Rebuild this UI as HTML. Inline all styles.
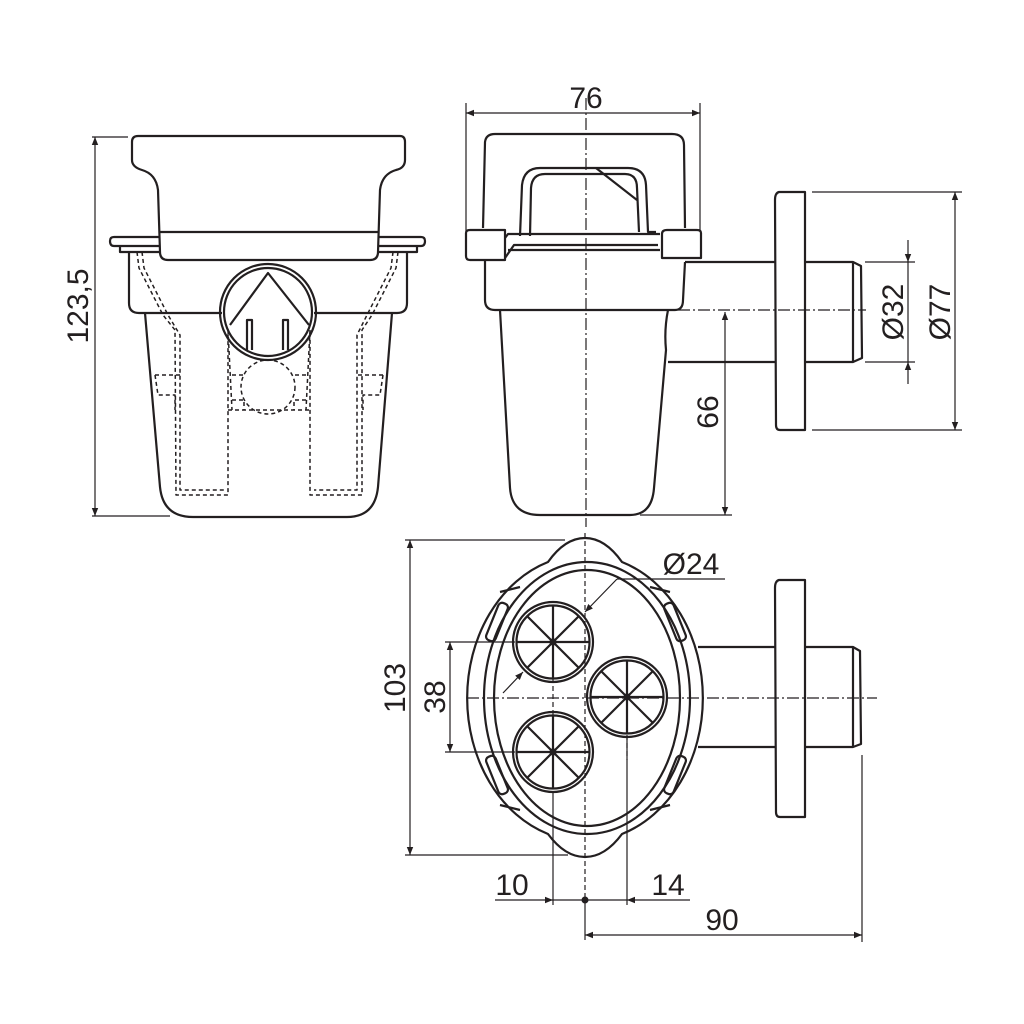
<!DOCTYPE html>
<html><head><style>
html,body{margin:0;padding:0;background:#fff;}
svg{display:block;}
text{font-family:"Liberation Sans","DejaVu Sans",sans-serif;font-size:30px;fill:#231f20;}
</style></head><body>
<svg width="1024" height="1024" viewBox="0 0 1024 1024" xmlns="http://www.w3.org/2000/svg">
<defs>
<marker id="a" viewBox="0 0 10 10" refX="10" refY="5" markerWidth="14" markerHeight="8" markerUnits="userSpaceOnUse" orient="auto-start-reverse"><path d="M0,1 L10,5 L0,9 z" fill="#231f20"/></marker>
</defs>
<g fill="none" stroke="#231f20" stroke-width="2.2" stroke-linejoin="round">
<!-- ============ FRONT VIEW ============ -->
<path d="M138,136 L400,136 Q405,136 405,142 L405,160 Q405,168 396,170 Q382,174 380,190 L378,252 Q378,260 370,260 L168,260 Q160,260 160,252 L158,190 Q156,174 142,170 Q132,167 132,160 L132,142 Q132,136 138,136 Z"/>
<line x1="159" y1="232" x2="379" y2="232"/>
<path d="M160,237 L114,237 Q110,237 110,241 Q110,246 114,246 L160,246"/>
<path d="M378,237 L421,237 Q425,237 425,241 Q425,246 421,246 L378,246"/>
<path d="M120,246 L120,252 L160,252"/>
<path d="M417,246 L417,252 L378,252"/>
<path d="M129,252 L129,303 Q129,313 139,313 L222,313"/>
<path d="M407,252 L407,303 Q407,313 397,313 L314,313"/>
<path d="M145,313 L160,487 Q163,517 193,517 L347,517 Q375,517 378,487 L392,313"/>
<circle cx="268" cy="312" r="48"/>
<circle cx="268" cy="312" r="44"/>
<path d="M230,325 L268,273 L309,325"/>
<path d="M247,350 L247,320 L252,320 L252,350"/>
<path d="M283,350 L283,320 L288,320 L288,350"/>
<g stroke-width="1.5" stroke-dasharray="4,3">
<circle cx="268" cy="387" r="27"/>
<path d="M137,252 L139,268 L163,315 L175,330 L176,495 L228,495 L228,330"/>
<path d="M142,252 L144,268 L168,315 L180,335 L180,490 L224,490"/>
<path d="M398,252 L396,268 L372,315 L362,330 L362,495 L310,495 L310,330"/>
<path d="M393,252 L391,268 L367,315 L357,335 L357,490 L314,490"/>
<path d="M228,330 L232,410 M310,330 L306,410"/>
<path d="M155,375 L180,375 M155,375 L158,395 L175,395 L175,410"/>
<path d="M383,375 L358,375 M383,375 L380,395 L363,395 L363,410"/>
<path d="M232,375 L244,375 M232,400 L244,400 L244,410 M306,375 L294,375 M306,400 L294,400 L294,410"/>
<path d="M228,410 L310,410"/>
</g>
<g stroke-width="1.2">
<line x1="92" y1="137" x2="128" y2="137"/>
<line x1="92" y1="516" x2="170" y2="516"/>
<line x1="95" y1="137" x2="95" y2="516" marker-start="url(#a)" marker-end="url(#a)"/>
</g>

<!-- ============ SIDE VIEW ============ -->
<g stroke-width="1.2">
<line x1="466" y1="103" x2="466" y2="235"/>
<line x1="700" y1="103" x2="700" y2="230"/>
<line x1="466" y1="113" x2="700" y2="113" marker-start="url(#a)" marker-end="url(#a)"/>
</g>
<path d="M483,228 L485,142 Q486,134 495,134 L672,134 Q684,134 684,145 L685,228"/>
<path d="M520,236 L522,185 Q524,168 540,168 L628,168 Q645,168 646,185 L648,232 L656,232"/>
<path d="M530,236 L531,188 Q532,174 545,174 L625,174 Q637,174 637,188 L639,232"/>
<path d="M596,168 L637,200"/>
<path d="M466,233 Q466,230 470,230 L505,230 L505,260 L470,260 Q466,260 466,256 Z"/>
<path d="M701,233 Q701,230 697,230 L667,230 Q662,230 662,234 L662,258 L701,258 Z"/>
<path d="M505,238 L508,234 L660,234"/>
<path d="M508,250 L660,250"/>
<path d="M505,258 L514,245 L658,245"/>
<path d="M485,260 L485,300 Q485,310 495,310 L675,310 Q683,310 683,300 L685,262"/>
<path d="M500,310 L510,488 Q512,515 540,515 L630,515 Q652,515 654,488 L666,350 Q664,330 668,310"/>
<path d="M685,262 L775,262 M805,262 L853,262 L861,266 L862,358 L853,362 L805,362 M775,362 L668,362"/>
<line x1="853" y1="262" x2="853" y2="362"/>
<path d="M779,192 L805,192 L805,430 L780,430 Q776,430 776,425 L775,200 Q775,193 779,192 Z"/>
<g stroke-width="1.2" stroke-dasharray="12,3,2,3">
<line x1="586" y1="98" x2="586" y2="527"/>
<line x1="678" y1="310" x2="866" y2="310"/>
</g>
<g stroke-width="1.2">
<line x1="640" y1="515" x2="732" y2="515"/>
<line x1="725" y1="312" x2="725" y2="515" marker-start="url(#a)" marker-end="url(#a)"/>
<line x1="865" y1="262" x2="915" y2="262"/>
<line x1="865" y1="362" x2="915" y2="362"/>
<line x1="908" y1="240" x2="908" y2="262" marker-end="url(#a)"/>
<line x1="908" y1="384" x2="908" y2="362" marker-end="url(#a)"/>
<line x1="908" y1="262" x2="908" y2="362"/>
<line x1="812" y1="192" x2="962" y2="192"/>
<line x1="812" y1="430" x2="962" y2="430"/>
<line x1="955" y1="192" x2="955" y2="430" marker-start="url(#a)" marker-end="url(#a)"/>
</g>

<!-- ============ BOTTOM VIEW ============ -->
<path d="M548,562 Q565,538 585,538 Q605,538 622,562 A117,143 0 0 1 622,834 Q605,857 585,857 Q565,857 548,834 A117,143 0 0 1 548,562 Z"/>
<ellipse cx="587" cy="698" rx="103" ry="136"/>
<ellipse cx="587" cy="698" rx="93" ry="128"/>
<g>
<rect x="-5" y="-20" width="10" height="40" rx="4" transform="translate(497,622) rotate(22)"/>
<rect x="-5" y="-20" width="10" height="40" rx="4" transform="translate(675,622) rotate(-22)"/>
<rect x="-5" y="-20" width="10" height="40" rx="4" transform="translate(497,775) rotate(-22)"/>
<rect x="-5" y="-20" width="10" height="40" rx="4" transform="translate(675,775) rotate(22)"/>
</g>
<path d="M500,592 L520,587 M670,592 L650,587 M500,805 L520,810 M670,805 L650,810"/>
<circle cx="553" cy="642" r="40"/><circle cx="553" cy="642" r="36.5"/>
<path d="M517,642 L589,642 M553,606 L553,678 M527.5,616.5 L578.5,667.5 M578.5,616.5 L527.5,667.5"/>
<circle cx="553" cy="642" r="2.5"/>
<circle cx="627" cy="697" r="40"/><circle cx="627" cy="697" r="36.5"/>
<path d="M591,697 L663,697 M627,661 L627,733 M601.5,671.5 L652.5,722.5 M652.5,671.5 L601.5,722.5"/>
<circle cx="627" cy="697" r="2.5"/>
<circle cx="553" cy="752" r="40"/><circle cx="553" cy="752" r="36.5"/>
<path d="M517,752 L589,752 M553,716 L553,788 M527.5,726.5 L578.5,777.5 M578.5,726.5 L527.5,777.5"/>
<circle cx="553" cy="752" r="2.5"/>
<path d="M698,647 L775,647 M805,647 L853,647 L860,651 L861,744 L853,747 L805,747 M775,747 L698,747"/>
<line x1="853" y1="647" x2="853" y2="747"/>
<path d="M779,580 L805,580 L805,817 L780,817 Q776,817 776,812 L775,588 Q775,581 779,580 Z"/>
<g stroke-width="1.2" stroke-dasharray="12,3,2,3">
<line x1="467" y1="698" x2="877" y2="698"/>
</g>
<g stroke-width="1.2" stroke-dasharray="5,3">
<line x1="585" y1="533" x2="585" y2="895"/>
<line x1="553" y1="670" x2="553" y2="720"/>
<line x1="627" y1="735" x2="627" y2="760"/>
</g>
<g stroke-width="1.2">
<line x1="405" y1="540" x2="565" y2="540"/>
<line x1="405" y1="855" x2="568" y2="855"/>
<line x1="410" y1="540" x2="410" y2="855" marker-start="url(#a)" marker-end="url(#a)"/>
<line x1="445" y1="642" x2="515" y2="642"/>
<line x1="445" y1="752" x2="515" y2="752"/>
<line x1="450" y1="642" x2="450" y2="752" marker-start="url(#a)" marker-end="url(#a)"/>
<line x1="725" y1="579" x2="617" y2="579"/>
<line x1="617" y1="579" x2="585" y2="612" marker-end="url(#a)"/>
<line x1="503" y1="693" x2="523" y2="672" marker-end="url(#a)"/>
<line x1="553" y1="793" x2="553" y2="905"/>
<line x1="627" y1="738" x2="627" y2="905"/>
<line x1="495" y1="900" x2="553" y2="900" marker-end="url(#a)"/>
<line x1="690" y1="900" x2="627" y2="900" marker-end="url(#a)"/>
<line x1="553" y1="900" x2="627" y2="900"/>
<line x1="585" y1="895" x2="585" y2="940"/>
<line x1="862" y1="755" x2="862" y2="942"/>
<line x1="585" y1="935" x2="862" y2="935" marker-start="url(#a)" marker-end="url(#a)"/>
</g>
</g>
<circle cx="585" cy="900" r="3.5" fill="#231f20"/>
<text x="586" y="108" text-anchor="middle">76</text>
<text transform="translate(88,306) rotate(-90)" text-anchor="middle">123,5</text>
<text transform="translate(718,412) rotate(-90)" text-anchor="middle">66</text>
<text transform="translate(903,312) rotate(-90)" text-anchor="middle">Ø32</text>
<text transform="translate(950,312) rotate(-90)" text-anchor="middle">Ø77</text>
<text transform="translate(405,688) rotate(-90)" text-anchor="middle">103</text>
<text transform="translate(445,697) rotate(-90)" text-anchor="middle">38</text>
<text x="691" y="574" text-anchor="middle">Ø24</text>
<text x="512" y="895" text-anchor="middle">10</text>
<text x="668" y="895" text-anchor="middle">14</text>
<text x="722" y="930" text-anchor="middle">90</text>
</svg>
</body></html>
